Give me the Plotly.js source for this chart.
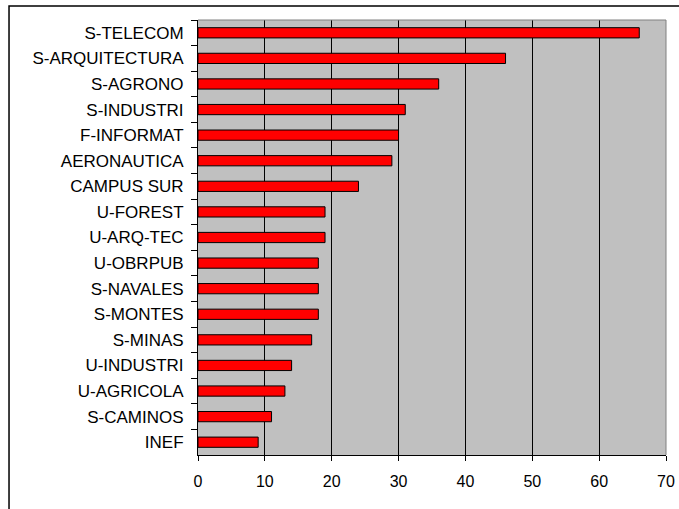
<!DOCTYPE html>
<html>
<head>
<meta charset="utf-8">
<script src="https://cdn.plot.ly/plotly-3.0.1.min.js"></script>
<style>html,body{margin:0;padding:0;background:#fff;}#chart{width:679px;height:509px;}</style>
</head>
<body>
<div id="chart"></div>
<script>
const categories = ["S-TELECOM","S-ARQUITECTURA","S-AGRONO","S-INDUSTRI","F-INFORMAT","AERONAUTICA","CAMPUS SUR","U-FOREST","U-ARQ-TEC","U-OBRPUB","S-NAVALES","S-MONTES","S-MINAS","U-INDUSTRI","U-AGRICOLA","S-CAMINOS","INEF"];
const values = [66,46,36,31,30,29,24,19,19,18,18,18,17,14,13,11,9];
const xTicks = [0,10,20,30,40,50,60,70];

const trace = {
  type: 'bar',
  orientation: 'h',
  y: categories,
  x: values,
  marker: {color: '#FF0000', line: {color: '#000000', width: 1}},
  hoverinfo: 'x+y'
};

const layout = {
  width: 679, height: 509,
  margin: {l: 198, r: 13, t: 20, b: 54},
  paper_bgcolor: '#FFFFFF',
  plot_bgcolor: '#C0C0C0',
  bargap: 0.6,
  showlegend: false,
  font: {family: 'Liberation Sans, Arial, sans-serif', size: 16, color: '#000'},
  xaxis: {
    range: [0, 70],
    tickvals: xTicks,
    ticktext: xTicks.map(String),
    showgrid: true, gridcolor: '#000000', gridwidth: 1,
    zeroline: false,
    showline: true, linecolor: '#000000', linewidth: 1,
    ticks: 'outside', ticklen: 5, tickcolor: '#000', tickwidth: 1,
    ticklabelstandoff: 7,
    tickfont: {size: 16}
  },
  yaxis: {
    type: 'category',
    autorange: 'reversed',
    showgrid: false,
    showline: true, linecolor: '#000000', linewidth: 1,
    ticks: 'outside', ticklen: 6, tickcolor: '#000', tickwidth: 1,
    tickson: 'boundaries',
    ticklabelstandoff: 10,
    tickfont: {size: 17}
  },
  shapes: [
    {type: 'line', xref: 'paper', yref: 'paper', x0: 0, x1: 1, y0: 1, y1: 1, line: {color: '#808080', width: 1}},
    {type: 'line', xref: 'paper', yref: 'paper', x0: 1, x1: 1, y0: 0, y1: 1, line: {color: '#808080', width: 1}},
    {type: 'rect', xref: 'paper', yref: 'paper', x0: -0.4038, x1: 1.2, y0: -0.3, y1: 1.0322, line: {color: '#000000', width: 1.5}, fillcolor: 'rgba(0,0,0,0)'}
  ]
};

Plotly.newPlot('chart', [trace], layout, {displayModeBar: false, staticPlot: true});
</script>
</body>
</html>
